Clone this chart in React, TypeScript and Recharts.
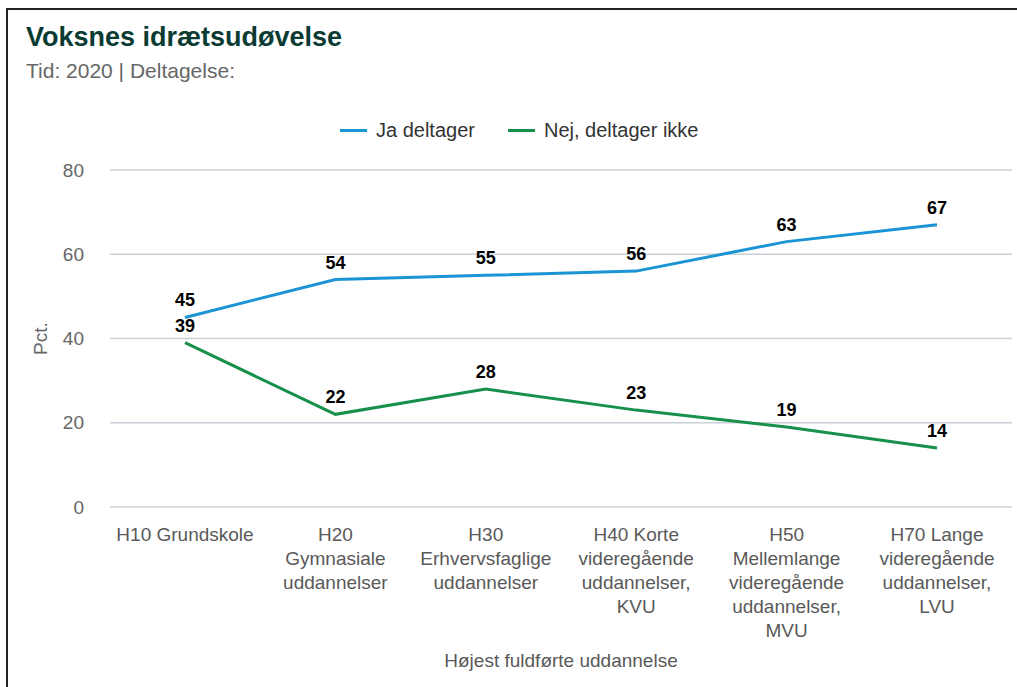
import React from 'react';
import {
  LineChart,
  Line,
  XAxis,
  YAxis,
  CartesianGrid,
  Legend,
  LabelList
} from 'recharts';

// Chart data
const categories = [
  'H10 Grundskole',
  'H20 Gymnasiale uddannelser',
  'H30 Erhvervsfaglige uddannelser',
  'H40 Korte videregående uddannelser, KVU',
  'H50 Mellemlange videregående uddannelser, MVU',
  'H70 Lange videregående uddannelser, LVU'
];
const tickLines = [
  ['H10 Grundskole'],
  ['H20', 'Gymnasiale', 'uddannelser'],
  ['H30', 'Erhvervsfaglige', 'uddannelser'],
  ['H40 Korte', 'videregående', 'uddannelser,', 'KVU'],
  ['H50', 'Mellemlange', 'videregående', 'uddannelser,', 'MVU'],
  ['H70 Lange', 'videregående', 'uddannelser,', 'LVU']
];
const jaValues = [45, 54, 55, 56, 63, 67];
const nejValues = [39, 22, 28, 23, 19, 14];
const yTicks = [0, 20, 40, 60, 80];

const data = categories.map((name, i) => ({
  name,
  ja: jaValues[i],
  nej: nejValues[i]
}));

const FONT = '"Liberation Sans", Arial, sans-serif';
const BLUE = '#1a94d4';
const GREEN = '#17904b';

const CategoryTick = ({ x, y, index }: any) => {
  const lines = tickLines[index] || [];
  return (
    <text x={x} y={y + 26} textAnchor="middle" fill="#595959" fontSize={19}>
      {lines.map((line, i) => (
        <tspan key={i} x={x} dy={i === 0 ? 0 : 24}>
          {line}
        </tspan>
      ))}
    </text>
  );
};

const LegendContent = ({ payload }: any) => (
  <div style={{ display: 'flex', alignItems: 'center', height: 24, fontSize: 20, color: '#333', fontFamily: FONT }}>
    {(payload || []).map((entry: any, i: number) => (
      <div key={i} style={{ display: 'flex', alignItems: 'center', marginRight: i === 0 ? 33 : 0 }}>
        <span style={{ display: 'inline-block', width: 27, height: 3, background: entry.color, marginRight: 9 }} />
        <span>{entry.value}</span>
      </div>
    ))}
  </div>
);

const PctLabel = ({ viewBox }: any) => {
  const cx = 40;
  const cy = viewBox.y + viewBox.height / 2;
  return (
    <text
      x={cx}
      y={cy}
      transform={`rotate(-90, ${cx}, ${cy})`}
      textAnchor="middle"
      dominantBaseline="central"
      fill="#666"
      fontSize={19}
    >
      Pct.
    </text>
  );
};

export default function App() {
  return (
    <div style={{ position: 'absolute', left: 0, top: 0, width: 1017, height: 687, overflow: 'hidden', background: '#fff', fontFamily: FONT }}>
      <div style={{ position: 'absolute', left: 6, top: 8, right: 0, bottom: 0, borderLeft: '2px solid #222', borderTop: '2px solid #222' }} />
      <div style={{ position: 'absolute', left: 26, top: 24, fontSize: 27, lineHeight: '27px', fontWeight: 'bold', color: '#0a3b33', whiteSpace: 'nowrap' }}>
        Voksnes idrætsudøvelse
      </div>
      <div style={{ position: 'absolute', left: 26, top: 60, fontSize: 21, lineHeight: '21px', color: '#666', whiteSpace: 'nowrap' }}>
        Tid: 2020 | Deltagelse:
      </div>
      <LineChart
        width={1017}
        height={687}
        data={data}
        margin={{ top: 170, right: 5, left: 30, bottom: 10 }}
        style={{ position: 'absolute', left: 0, top: 0, fontFamily: FONT }}
      >
        <CartesianGrid vertical={false} stroke="#c8d0d8" strokeWidth={1.5} />
        <XAxis
          dataKey="name"
          height={170}
          padding={{ left: 75, right: 75 }}
          axisLine={false}
          tickLine={false}
          interval={0}
          tick={<CategoryTick />}
          label={{
            value: 'Højest fuldførte uddannelse',
            position: 'insideBottom',
            offset: 10,
            fill: '#595959',
            fontSize: 19
          }}
        />
        <YAxis
          width={80}
          domain={[0, 80]}
          ticks={yTicks}
          axisLine={false}
          tickLine={false}
          tickMargin={20}
          tick={{ fill: '#666', fontSize: 19 }}
          label={<PctLabel />}
        />
        <Legend
          verticalAlign="middle"
          align="center"
          wrapperStyle={{ top: 118, left: 340, width: 'auto' }}
          content={<LegendContent />}
        />
        <Line
          dataKey="ja"
          name="Ja deltager"
          stroke={BLUE}
          strokeWidth={3}
          dot={false}
          activeDot={false}
          isAnimationActive={false}
        >
          <LabelList dataKey="ja" position="top" offset={11} fill="#000" fontSize={18} fontWeight="bold" />
        </Line>
        <Line
          dataKey="nej"
          name="Nej, deltager ikke"
          stroke={GREEN}
          strokeWidth={3}
          dot={false}
          activeDot={false}
          isAnimationActive={false}
        >
          <LabelList dataKey="nej" position="top" offset={11} fill="#000" fontSize={18} fontWeight="bold" />
        </Line>
      </LineChart>
    </div>
  );
}
